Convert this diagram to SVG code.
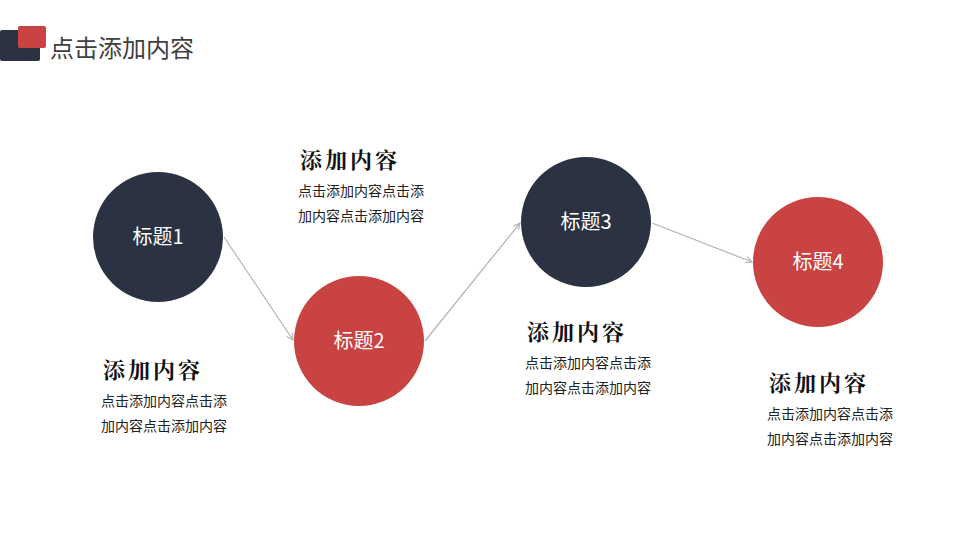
<svg xmlns="http://www.w3.org/2000/svg" width="960" height="540" viewBox="0 0 960 540">
<defs>
<marker id="ah" viewBox="0 0 10 10" refX="9" refY="5" markerWidth="8" markerHeight="8" orient="auto" markerUnits="userSpaceOnUse">
<path d="M1,1 L9,5 L1,9" fill="none" stroke="#b3b3b3" stroke-width="1.4"/>
</marker>
<style>
.dark{fill:#2b3242}
.red{fill:#c94343}
.lbl{font-family:"Noto Sans CJK SC","Liberation Sans",sans-serif;font-size:20px;fill:#ffffff;text-anchor:middle}
.hd{font-family:"Noto Serif CJK SC","Noto Sans CJK SC",serif;font-size:22px;font-weight:bold;fill:#111111;letter-spacing:3px}
.tx{font-family:"Noto Sans CJK SC",sans-serif;font-size:14px;fill:#222222}
.con{stroke:#b3b3b3;stroke-width:1.2;fill:none;marker-end:url(#ah)}
</style>
</defs>
<rect width="960" height="540" fill="#ffffff"/>
<g id="header">
<rect x="0" y="30" width="40" height="31" rx="2" class="dark"/>
<rect x="18" y="26" width="28" height="22" rx="2" class="red"/>
<text x="50" y="57" font-family="Noto Sans CJK SC, sans-serif" font-size="24" fill="#404040">点击添加内容</text>
</g>
<g id="connectors">
<line x1="224" y1="237" x2="293" y2="340" class="con"/>
<line x1="425" y1="341" x2="520" y2="223" class="con"/>
<line x1="652" y1="223" x2="752" y2="262" class="con"/>
</g>
<g id="node1">
<circle cx="158" cy="237" r="65" class="dark"/>
<text x="158" y="244" class="lbl">标题1</text>
</g>
<g id="node2">
<circle cx="359" cy="341" r="65" class="red"/>
<text x="359" y="348" class="lbl">标题2</text>
</g>
<g id="node3">
<circle cx="586" cy="222" r="65" class="dark"/>
<text x="586" y="229" class="lbl">标题3</text>
</g>
<g id="node4">
<circle cx="818" cy="262" r="65" class="red"/>
<text x="818" y="269" class="lbl">标题4</text>
</g>
<g id="text1">
<text x="103" y="378" class="hd">添加内容</text>
<text x="101" y="406" class="tx">点击添加内容点击添</text>
<text x="101" y="431" class="tx">加内容点击添加内容</text>
</g>
<g id="text2">
<text x="300" y="168" class="hd">添加内容</text>
<text x="298" y="196" class="tx">点击添加内容点击添</text>
<text x="298" y="221" class="tx">加内容点击添加内容</text>
</g>
<g id="text3">
<text x="527" y="340" class="hd">添加内容</text>
<text x="525" y="368" class="tx">点击添加内容点击添</text>
<text x="525" y="393" class="tx">加内容点击添加内容</text>
</g>
<g id="text4">
<text x="769" y="391" class="hd">添加内容</text>
<text x="767" y="419" class="tx">点击添加内容点击添</text>
<text x="767" y="444" class="tx">加内容点击添加内容</text>
</g>
</svg>
